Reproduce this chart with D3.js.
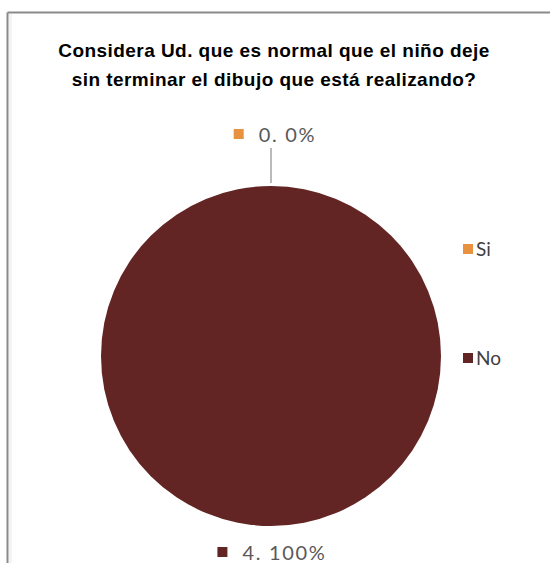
<!DOCTYPE html>
<html>
<head>
<meta charset="utf-8">
<script src="https://cdn.jsdelivr.net/npm/d3@7"></script>
<style>
  body { margin: 0; background: #fff; }
  svg { display: block; }
</style>
</head>
<body>
<svg id="chart" width="550" height="563"></svg>
<script>
// data
let categories = ["Si", "No"];
let counts = [0, 4];
let percents = ["0%", "100%"];
let colors = ["#e8913f", "#632523"];
let titleLines = ["Considera Ud. que es normal que el niño deje",
                  "sin terminar el dibujo que está realizando?"];

let svg = d3.select("#chart");
let cx = 271, cy = 356, r = 170;

// frame (only top + left visible in the crop)
svg.append("line").attr("x1", 7.5).attr("y1", 12.5).attr("x2", 550).attr("y2", 12.5)
    .attr("stroke", "#8a8a8a").attr("stroke-width", 2);
svg.append("line").attr("x1", 7.5).attr("y1", 12.5).attr("x2", 7.5).attr("y2", 563)
    .attr("stroke", "#8a8a8a").attr("stroke-width", 2);
svg.append("rect").attr("x", 9).attr("y", 14).attr("width", 3).attr("height", 549)
    .attr("fill", "#f3f3f3");

// title
svg.selectAll("text.title").data(titleLines).enter().append("text")
    .attr("class", "title")
    .attr("x", 274)
    .attr("y", (d, i) => 57 + i * 29)
    .attr("text-anchor", "middle")
    .style("font-family", "Liberation Sans, Arial, sans-serif")
    .style("font-weight", "bold")
    .style("font-size", "19px")
    .style("letter-spacing", "0.45px")
    .attr("fill", "#000")
    .text(d => d);

// pie
let data = categories.map((c, i) => ({cat: c, value: counts[i], pct: percents[i], color: colors[i]}));
let pie = d3.pie().value(d => d.value).sort(null);
let arcs = pie(data);
let arc = d3.arc().innerRadius(0).outerRadius(r);

let g = svg.append("g").attr("transform", `translate(${cx},${cy})`);
g.selectAll("path").data(arcs).enter().append("path")
    .attr("d", arc)
    .attr("fill", d => d.data.color);

// data labels: "■ value. pct"
let labelOffset = {"Si": 51, "No": 27};
let labelShift = {"Si": 4, "No": 1};
arcs.forEach(a => {
    let mid = (a.startAngle + a.endAngle) / 2;
    let dist = r + labelOffset[a.data.cat];
    let lx = cx + Math.sin(mid) * dist + labelShift[a.data.cat];
    let ly = cy - Math.cos(mid) * dist;
    let lg = svg.append("g").attr("transform", `translate(${lx},${ly})`);
    let t = lg.append("text")
        .attr("x", 0).attr("y", 7)
        .style("font-family", "Lato, Open Sans, sans-serif")
        .style("font-size", "20px")
        .style("letter-spacing", "1.7px")
        .attr("fill", "#595959")
        .text(a.data.value + ". " + a.data.pct);
    let w = t.node().getComputedTextLength();
    let total = 10 + 15 + w;
    lg.insert("rect", "text").attr("x", -total / 2).attr("y", -6).attr("width", 10).attr("height", 10)
        .attr("fill", a.data.color);
    t.attr("x", -total / 2 + 25);
    if (a.data.value === 0) {
        // leader line down to the pie edge
        svg.append("line")
            .attr("x1", cx + Math.sin(mid) * (r + 38)).attr("y1", cy - Math.cos(mid) * (r + 38))
            .attr("x2", cx + Math.sin(mid) * (r + 3)).attr("y2", cy - Math.cos(mid) * (r + 3))
            .attr("stroke", "#8c8c8c").attr("stroke-width", 1.2);
    }
});

// legend
let legend = svg.append("g").attr("transform", "translate(463,249)");
let items = legend.selectAll("g").data(data).enter().append("g")
    .attr("transform", (d, i) => `translate(0,${i * 109})`);
items.append("rect").attr("x", 0).attr("y", -5).attr("width", 10).attr("height", 10)
    .attr("fill", d => d.color);
items.append("text").attr("x", 13).attr("y", 7)
    .style("font-family", "Lato, Open Sans, sans-serif")
    .style("font-size", "19px")
    .attr("fill", "#404040")
    .text(d => d.cat);
</script>
</body>
</html>
